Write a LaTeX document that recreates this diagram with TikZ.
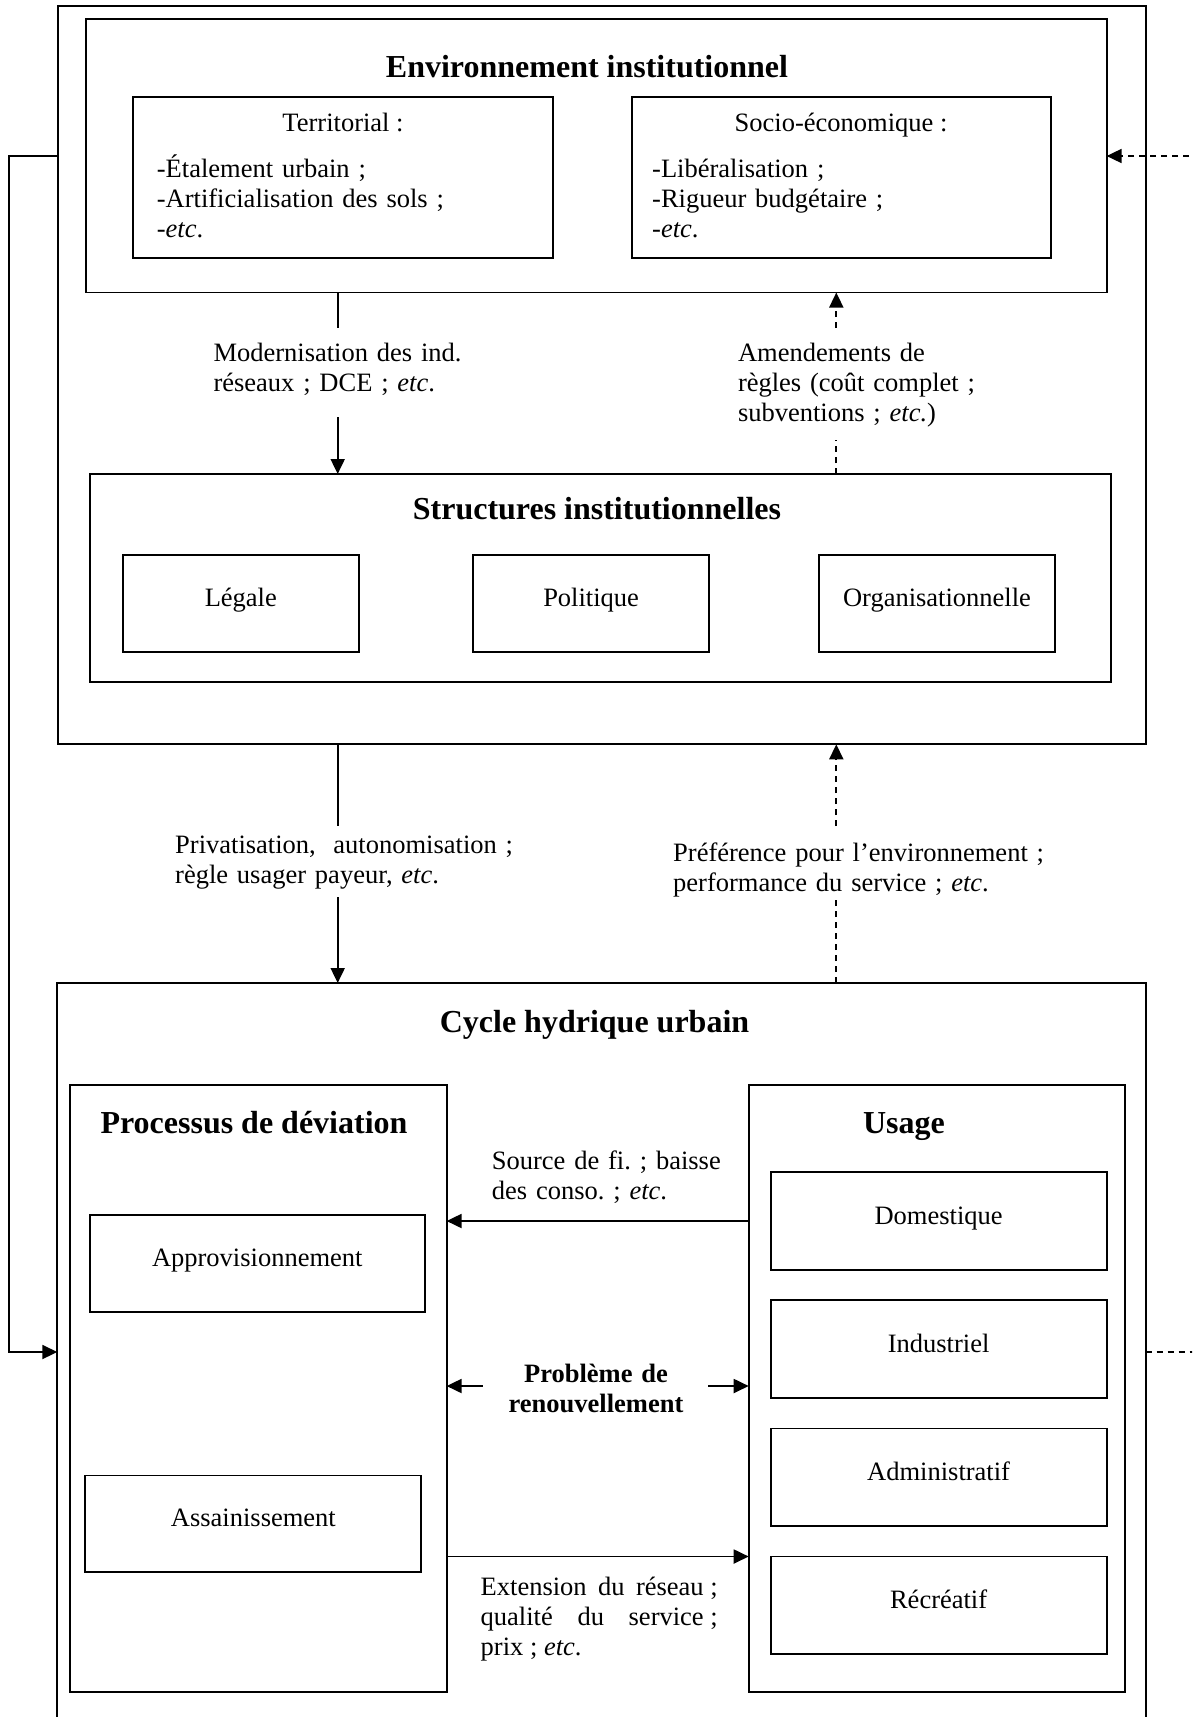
\documentclass[tikz,border=0pt]{standalone}
\usepackage{fontspec}
\setmainfont{Liberation Serif}
\usetikzlibrary{arrows.meta}
\newcommand\bodyfnt{\fontsize{26.5}{30}\selectfont\frenchspacing}
\newcommand\ttlfnt{\fontsize{32}{36}\selectfont\bfseries}
\begin{document}
\frenchspacing
\begin{tikzpicture}[x=1pt,y=-1pt,
  bx/.style={draw, line width=1.9pt, inner sep=0pt, outer sep=0pt, anchor=north west, font=\bodyfnt, text height=18pt, text depth=12pt},
  frame/.style={draw, line width=1.9pt, inner sep=0pt, outer sep=0pt, anchor=north west},
  ttl/.style={inner sep=0pt, anchor=base, font=\ttlfnt},
  bodytxt/.style={inner sep=0pt, anchor=base, font=\bodyfnt},
  lbl/.style={inner sep=0pt, anchor=base west, align=left, font=\bodyfnt},
  ln/.style={line width=1.9pt},
  dln/.style={line width=1.7pt, dash pattern=on 6pt off 5pt},
  arr/.style={-{Triangle[length=15pt,width=14pt]}}]
\useasboundingbox (0,0) rectangle (1192,1717);
\clip (0,0) rectangle (1192,1717);

% ---------- upper block ----------
\node[frame, minimum width=1088, minimum height=738] (outer) at (57.7,6.3) {};
\node[frame, minimum width=1020.6, minimum height=273.2] (env) at (86,19.3) {};
\node[ttl] (envt) at (587,77.7) {Environnement institutionnel};

\node[frame, minimum width=419.5, minimum height=161.3] (terr) at (133.3,97) {};
\node[bodytxt] (terrt) at (343,131) {Territorial :};
\node[lbl, text width=380] (terrl) at (156.7,177.3) {-Étalement urbain ;\\-Artificialisation des sols ;\\-\textit{etc}.};

\node[frame, minimum width=419.2, minimum height=161.3] (socio) at (631.6,97) {};
\node[bodytxt] (sociot) at (841,131) {Socio-économique :};
\node[lbl, text width=380] (sociol) at (652,177.3) {-Libéralisation ;\\-Rigueur budgétaire ;\\-\textit{etc}.};

\node[frame, minimum width=1021.2, minimum height=208] (struct) at (89.8,474) {};
\node[ttl] (structt) at (597,519) {Structures institutionnelles};
\node[bx, minimum width=236.4, minimum height=97.4] (legale) at (122.6,555) {Légale};
\node[bx, minimum width=236.4, minimum height=97.4] (polit) at (472.9,555) {Politique};
\node[bx, minimum width=236.4, minimum height=97.4] (orga) at (818.8,555) {Organisationnelle};

% env -> structures
\coordinate (m1) at (337.7,328);
\coordinate (m2) at (337.7,417);
\draw[ln] (env.south -| m1) -- (m1);
\draw[ln, arr] (m2) -- (m2 |- struct.north);
\node[lbl, text width=300] (modl) at (213.3,361.5) {Modernisation des ind.\\réseaux ; DCE ; \textit{etc}.};

% structures -> env (dashed)
\coordinate (a1) at (836.3,328);
\coordinate (a2) at (836.3,440);
\draw[dln, arr] (a1) -- (a1 |- env.south);
\draw[dln] (struct.north -| a2) -- (a2);
\node[lbl, text width=300] (amel) at (737.8,361.7) {Amendements de\\règles (coût complet ;\\subventions ; \textit{etc.})};

% ---------- lower block ----------
\node[frame, minimum width=1088.4, minimum height=760] (cycle) at (57.3,983) {};
\node[ttl] (cyclet) at (594.5,1032) {Cycle hydrique urbain};

% outer -> cycle
\coordinate (p1) at (337.7,826);
\coordinate (p2) at (337.7,897);
\draw[ln] (outer.south -| p1) -- (p1);
\draw[ln, arr] (p2) -- (p2 |- cycle.north);
\node[lbl, text width=400] (privl) at (175,853) {Privatisation,\ \ autonomisation ;\\règle usager payeur, \textit{etc}.};

% cycle -> outer (dashed)
\coordinate (q1) at (836.3,826);
\coordinate (q2) at (836.3,900);
\draw[dln, arr] (q1) -- (q1 |- outer.south);
\draw[dln] (cycle.north -| q2) -- (q2);
\node[lbl, text width=420] (prefl) at (673,861) {Préférence pour l’environnement ;\\performance du service ; \textit{etc}.};

\node[frame, minimum width=376.6, minimum height=607.3] (proc) at (70,1084.7) {};
\node[ttl] (proct) at (254,1133) {Processus de déviation};
\node[bx, minimum width=334.9, minimum height=97.4] (appro) at (89.8,1215) {Approvisionnement};
\node[bx, minimum width=336, minimum height=96.4] (assai) at (85.4,1475.5) {Assainissement};

\node[frame, minimum width=376.6, minimum height=607.3] (usage) at (748.7,1084.7) {};
\node[ttl] (usaget) at (904,1133) {Usage};
\node[bx, minimum width=336, minimum height=97.4] (dom) at (770.6,1172.3) {Domestique};
\node[bx, minimum width=336, minimum height=97.4] (ind) at (770.6,1300.4) {Industriel};
\node[bx, minimum width=336, minimum height=97.4] (adm) at (770.6,1428.5) {Administratif};
\node[bx, minimum width=336, minimum height=97.4] (rec) at (770.6,1556.5) {Récréatif};

% usage -> processus
\coordinate (s1) at (0,1221);
\draw[ln, arr] (usage.west |- s1) -- (proc.east |- s1);
\node[lbl, text width=260] (srcl) at (491.7,1169.5) {Source de fi. ; baisse\\des conso. ; \textit{etc}.};

% probleme de renouvellement
\node[inner sep=0pt, anchor=base, align=center, text width=260, font=\bodyfnt\bfseries] (prob) at (596,1382) {Problème de\\renouvellement};
\coordinate (pl) at (482.7,1386);
\coordinate (pr) at (708.3,1386);
\draw[ln, arr] (pl) -- (pl -| proc.east);
\draw[ln, arr] (pr) -- (pr -| usage.west);

% processus -> usage
\coordinate (e1) at (0,1556.5);
\draw[ln, arr] (proc.east |- e1) -- (usage.west |- e1);
\node[lbl, text width=237, align=justify] (extl) at (480.5,1595) {Extension du \mbox{réseau ;}\linebreak qualité du \mbox{service ;}\linebreak prix ; \textit{etc}.};

% feedback loops
\coordinate (f1) at (9.3,155.7);
\coordinate (f2) at (9.3,1352);
\draw[ln, arr] (outer.west |- f1) -- (f1) -- (f2) -- (f2 -| cycle.west);
\coordinate (r1) at (1200,156);
\draw[dln, arr] (r1) -- (r1 -| env.east);
\coordinate (r2) at (1200,1352);
\draw[dln] (cycle.east |- r2) -- (r2);
\end{tikzpicture}
\end{document}
